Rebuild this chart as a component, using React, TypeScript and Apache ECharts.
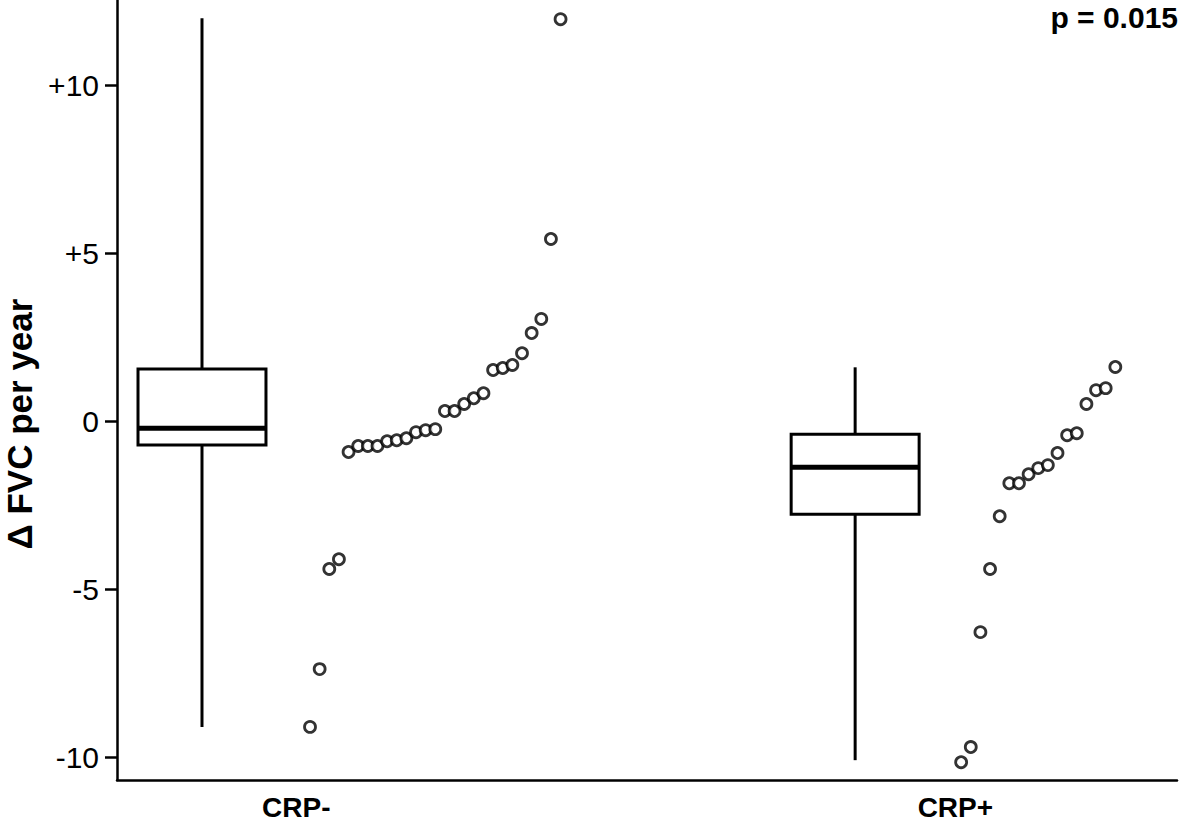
import React, { useEffect, useRef } from "react";
import * as echarts from "echarts";

const groups = ["CRP-", "CRP+"];
const whiskerLow = [-9.1, -10.09];
const q1 = [-0.71, -2.77];
const median = [-0.21, -1.37];
const q3 = [1.55, -0.39];
const whiskerHigh = [11.99, 1.6];

const crpNeg = [
  -9.1, -7.38, -4.4, -4.11, -0.92, -0.74, -0.74, -0.74, -0.6, -0.57, -0.51, -0.33, -0.27, -0.24,
  0.3, 0.3, 0.51, 0.68, 0.83, 1.52, 1.58, 1.67, 2.02, 2.62, 3.04, 5.42, 11.96,
];
const crpPos = [
  -10.15, -9.7, -6.28, -4.4, -2.83, -1.85, -1.85, -1.58, -1.4, -1.31, -0.95, -0.42, -0.36, 0.51,
  0.92, 0.98, 1.61,
];
const yTicks = [-10, -5, 0, 5, 10];

// layout on the x value scale (1 unit = one dot step)
const boxCenters = [8.82, 76.6];
const boxHalf = 6.64;
const dotStarts = [20.03, 87.6];
const labelCenters = [18.6, 87.0];

export default function App() {
  const ref = useRef<HTMLDivElement>(null);
  useEffect(() => {
    document.body.style.margin = "0";
    const chart = echarts.init(ref.current!, null, { renderer: "svg" });
    const boxData = groups.map((_, i) => [i, whiskerLow[i], q1[i], median[i], q3[i], whiskerHigh[i]]);
    const dots = (arr: number[], start: number) => arr.map((v, i) => [start + i, v]);
    const dotStyle = { color: "#fff", borderColor: "#000", borderWidth: 2.8 };
    chart.setOption({
      animation: false,
      backgroundColor: "#fff",
      grid: { left: 117, right: 4, top: 0, bottom: 44 },
      xAxis: {
        type: "value",
        min: 0,
        max: 110,
        splitLine: { show: false },
        axisLine: { show: true, onZero: false, lineStyle: { color: "#000", width: 2.5 } },
        axisTick: { show: false },
        axisLabel: {
          customValues: labelCenters,
          formatter: (v: number) => {
            const i = labelCenters.findIndex((c) => Math.abs(c - v) < 0.01);
            return i >= 0 ? groups[i] : "";
          },
          color: "#000",
          fontFamily: "Liberation Sans",
          fontWeight: "bold",
          fontSize: 28,
          margin: 13,
        },
      },
      yAxis: {
        type: "value",
        min: -10.68,
        max: 12.53,
        splitLine: { show: false },
        axisLine: { show: true, onZero: false, lineStyle: { color: "#000", width: 2.5 } },
        axisTick: { show: true, customValues: yTicks, length: 12, lineStyle: { color: "#000", width: 2.5 } },
        axisLabel: {
          customValues: yTicks,
          formatter: (v: number) => (v > 0 ? "+" + v : String(v)),
          color: "#000",
          fontFamily: "Liberation Sans",
          fontSize: 30,
          margin: 18,
        },
      },
      graphic: [
        {
          type: "text",
          x: 19,
          y: 424,
          rotation: Math.PI / 2,
          style: {
            text: "Δ FVC per year",
            fill: "#000",
            font: "bold 35px 'Liberation Sans'",
            align: "center",
            verticalAlign: "middle",
          },
        },
        {
          type: "text",
          right: 3,
          top: 2,
          style: {
            text: "p = 0.015",
            fill: "#000",
            font: "bold 30px 'Liberation Sans'",
          },
        },
      ],
      series: [
        {
          type: "custom",
          data: boxData,
          renderItem: (params: any, api: any) => {
            const i = api.value(0);
            const c = boxCenters[i];
            const pLow = api.coord([c, api.value(1)]);
            const pQ1 = api.coord([c, api.value(2)]);
            const pMed = api.coord([c, api.value(3)]);
            const pQ3 = api.coord([c, api.value(4)]);
            const pHigh = api.coord([c, api.value(5)]);
            const left = api.coord([c - boxHalf, 0])[0];
            const right = api.coord([c + boxHalf, 0])[0];
            const ls = { stroke: "#000", lineWidth: 3, fill: "none" };
            return {
              type: "group",
              children: [
                { type: "line", shape: { x1: pHigh[0], y1: pHigh[1], x2: pQ3[0], y2: pQ3[1] }, style: ls },
                { type: "line", shape: { x1: pQ1[0], y1: pQ1[1], x2: pLow[0], y2: pLow[1] }, style: ls },
                {
                  type: "rect",
                  shape: { x: left, y: pQ3[1], width: right - left, height: pQ1[1] - pQ3[1] },
                  style: { stroke: "#000", lineWidth: 3, fill: "#fff" },
                },
                { type: "line", shape: { x1: left, y1: pMed[1], x2: right, y2: pMed[1] }, style: { stroke: "#000", lineWidth: 5 } },
              ],
            };
          },
          z: 2,
        },
        {
          type: "scatter",
          data: dots(crpNeg, dotStarts[0]),
          symbol: "circle",
          symbolSize: 11,
          itemStyle: dotStyle,
          z: 3,
        },
        {
          type: "scatter",
          data: dots(crpPos, dotStarts[1]),
          symbol: "circle",
          symbolSize: 11,
          itemStyle: dotStyle,
          z: 3,
        },
      ],
    });
    return () => chart.dispose();
  }, []);
  return <div ref={ref} style={{ width: 1181, height: 824 }} />;
}
